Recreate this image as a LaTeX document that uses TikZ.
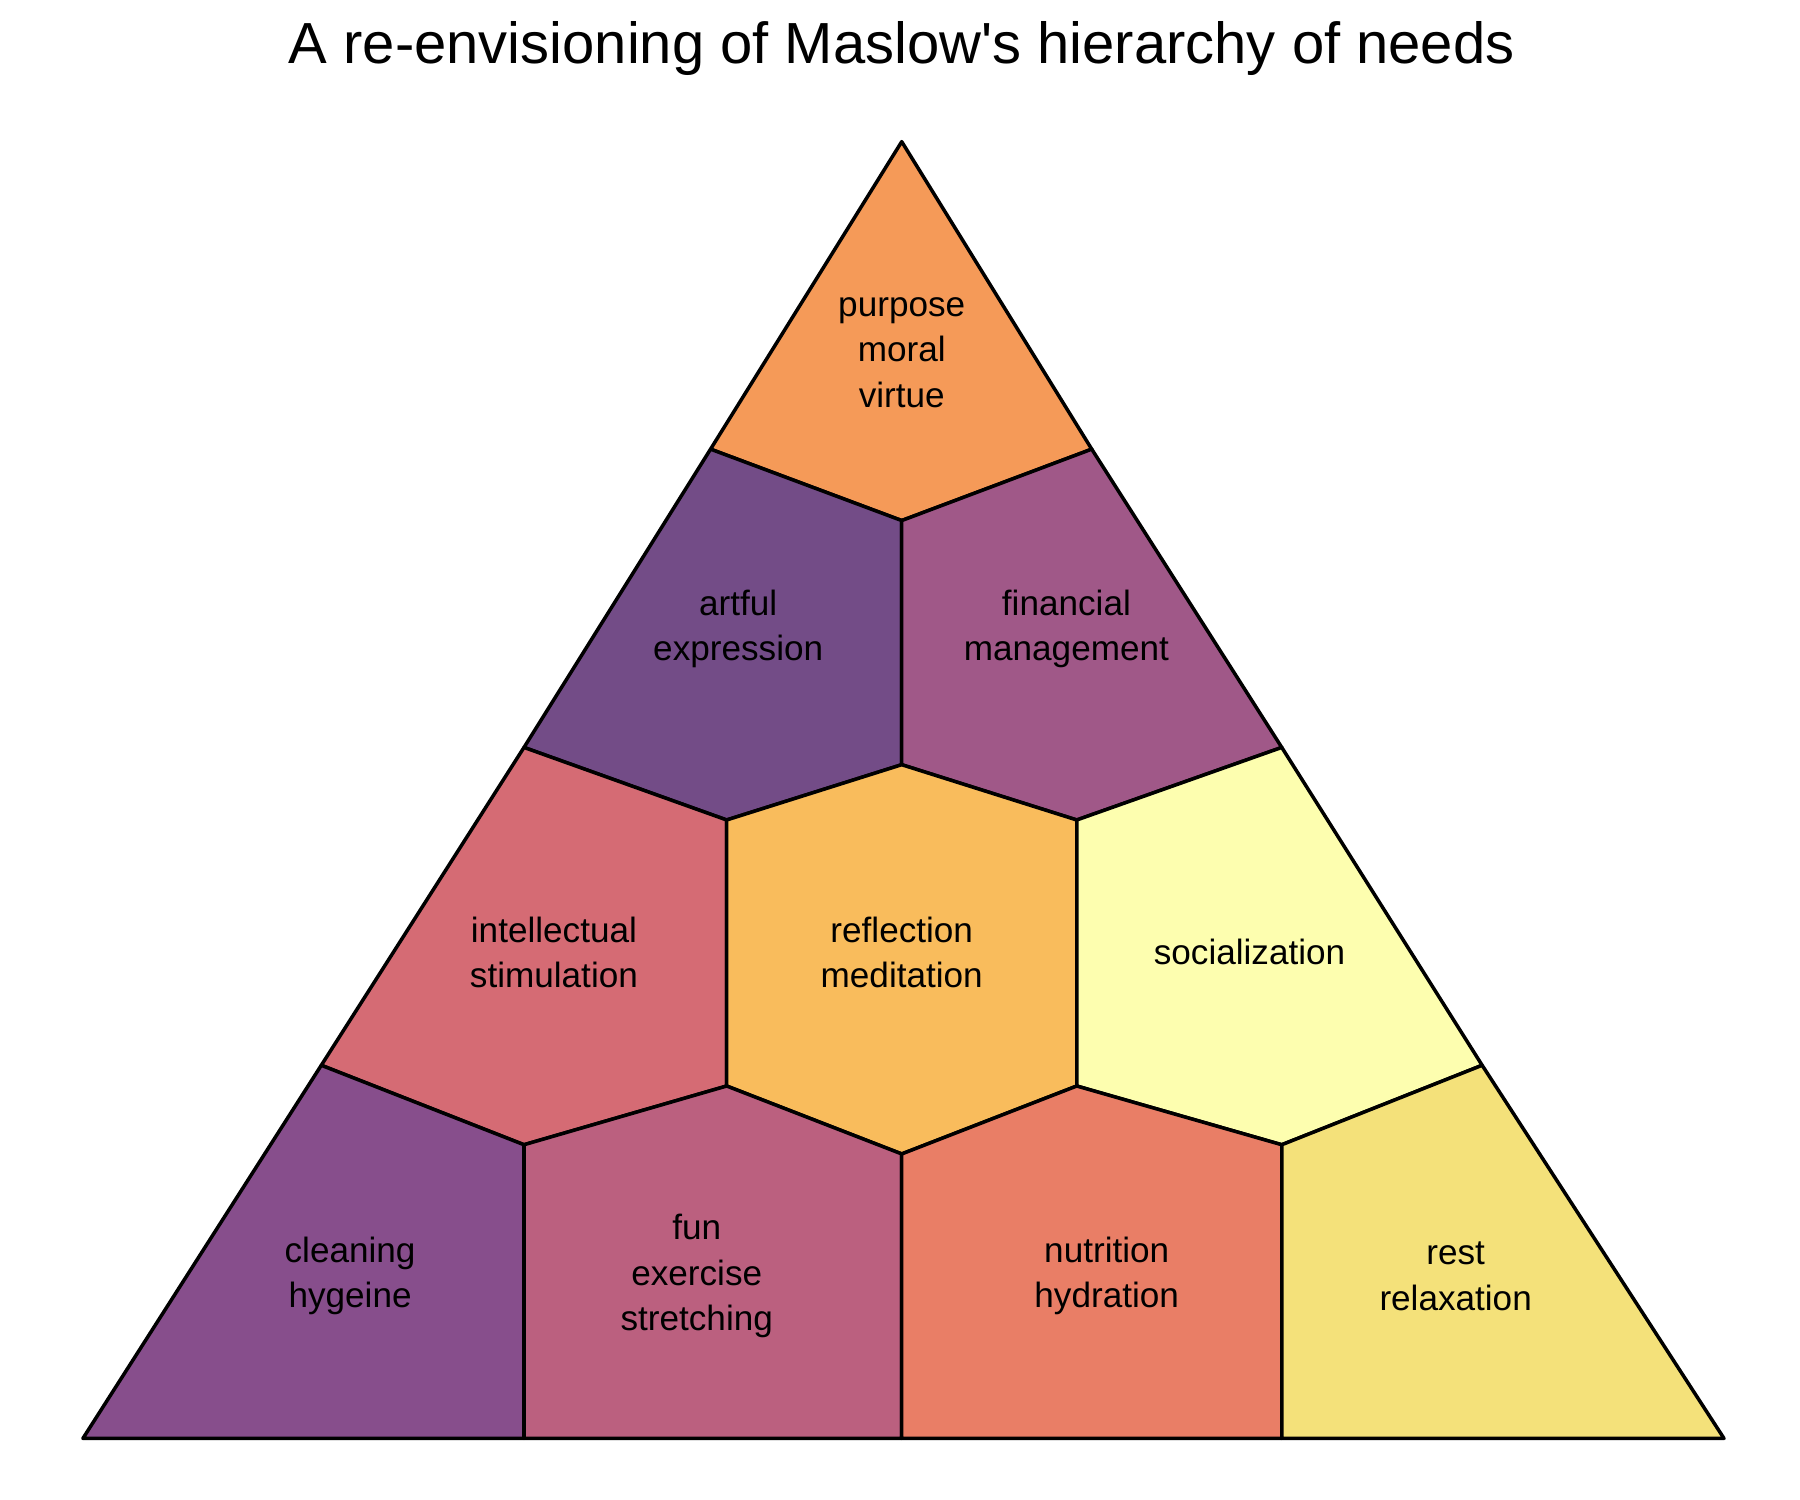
\documentclass[tikz,border=0pt]{standalone}
\usepackage{fontspec}
\setmainfont{Liberation Sans}
\usepackage{tikz}
\tikzset{>=latex}
\tikzset{
  cell/.style={draw=black, line width=1pt, line join=round},
  lbl/.style={font=\fontsize{10}{13}\selectfont, align=center}
}
\definecolor{cPurpose}{HTML}{F59A58}
\definecolor{cArtful}{HTML}{734C87}
\definecolor{cFinance}{HTML}{A05888}
\definecolor{cIntel}{HTML}{D56B74}
\definecolor{cReflect}{HTML}{F9BC5C}
\definecolor{cSocial}{HTML}{FDFEAF}
\definecolor{cClean}{HTML}{874E8C}
\definecolor{cFun}{HTML}{BB607F}
\definecolor{cNutri}{HTML}{E97E66}
\definecolor{cRest}{HTML}{F4E17A}

\begin{document}
\begin{tikzpicture}[x=0.011516cm, y=-0.011516cm]
	\useasboundingbox (0, 0) rectangle (1563, 1302);
	% title
	\node[font=\fontsize{16.5}{19}\selectfont] (title) at (783, 42) {A re-envisioning of Maslow\textquotesingle s hierarchy of needs};
	% top
	\fill[cPurpose, cell](783, 123)--(948, 390)--(783, 452)--(617, 390)--cycle;
	% second row
	\fill[cArtful, cell](617, 390)--(783, 452)--(783, 664)--(631, 712)--(455, 649)--cycle;
	\fill[cFinance, cell](783, 452)--(948, 390)--(1113, 649)--(935, 712)--(783, 664)--cycle;
	% third row
	\fill[cIntel, cell](455, 649)--(631, 712)--(631, 943)--(455, 994)--(279, 925)--cycle;
	\fill[cReflect, cell](631, 712)--(783, 664)--(935, 712)--(935, 943)--(783, 1002)--(631, 943)--cycle;
	\fill[cSocial, cell](935, 712)--(1113, 649)--(1287, 925)--(1113, 994)--(935, 943)--cycle;
	% bottom row
	\fill[cClean, cell](279, 925)--(455, 994)--(455, 1249)--(72, 1249)--cycle;
	\fill[cFun, cell](455, 994)--(631, 943)--(783, 1002)--(783, 1249)--(455, 1249)--cycle;
	\fill[cNutri, cell](783, 1002)--(935, 943)--(1113, 994)--(1113, 1249)--(783, 1249)--cycle;
	\fill[cRest, cell](1113, 994)--(1287, 925)--(1497, 1249)--(1113, 1249)--cycle;
	% labels
	\node[lbl] (purpose) at (783, 306) {purpose\\moral\\virtue};
	\node[lbl] (artful) at (641, 546) {artful\\expression};
	\node[lbl] (financial) at (926, 546) {financial\\management};
	\node[lbl] (intel) at (481, 827) {intellectual\\stimulation};
	\node[lbl] (reflect) at (783, 827) {reflection\\meditation};
	\node[lbl] (social) at (1085, 827) {socialization};
	\node[lbl] (clean) at (304, 1108) {cleaning\\hygeine};
	\node[lbl] (fun) at (605, 1108) {fun\\exercise\\stretching};
	\node[lbl] (nutri) at (961, 1108) {nutrition\\hydration};
	\node[lbl] (rest) at (1264, 1108) {rest\\relaxation};
\end{tikzpicture}
\end{document}
